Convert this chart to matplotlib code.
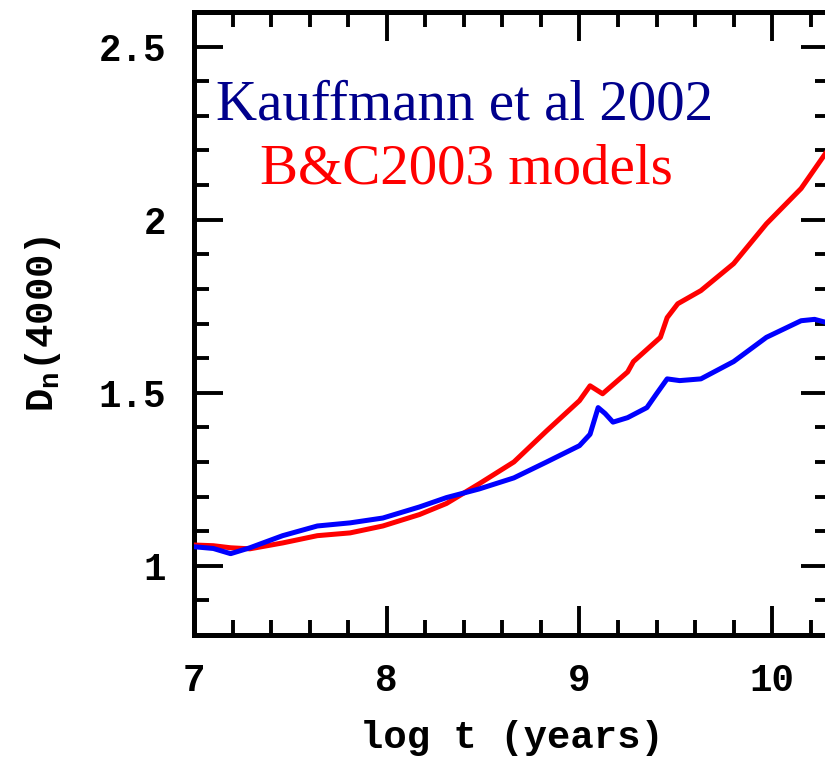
import numpy as np
import matplotlib
matplotlib.use("Agg")
import matplotlib.pyplot as plt
from matplotlib.ticker import MultipleLocator

# B&C2003 models (red)
logt_bc = [7.0, 7.10, 7.19, 7.29, 7.46, 7.64, 7.81, 7.98, 8.17, 8.31, 8.48,
           8.66, 8.83, 9.0, 9.055, 9.12, 9.25, 9.28, 9.42, 9.455, 9.51,
           9.63, 9.80, 9.97, 10.15, 10.30]
dn_bc = [1.06, 1.058, 1.052, 1.049, 1.066, 1.087, 1.095, 1.115, 1.148, 1.18,
         1.237, 1.30, 1.39, 1.477, 1.52, 1.497, 1.56, 1.59, 1.66, 1.717,
         1.757, 1.795, 1.873, 1.988, 2.09, 2.21]

# Kauffmann et al 2002 (blue)
logt_k = [7.0, 7.10, 7.19, 7.29, 7.46, 7.64, 7.81, 7.98, 8.17, 8.31, 8.48,
          8.66, 8.83, 9.0, 9.055, 9.097, 9.133, 9.174, 9.25, 9.35, 9.40,
          9.455, 9.52, 9.63, 9.80, 9.97, 10.15, 10.22, 10.30]
dn_k = [1.055, 1.05, 1.035, 1.052, 1.087, 1.115, 1.124, 1.138, 1.17, 1.197,
        1.222, 1.254, 1.30, 1.347, 1.38, 1.457, 1.44, 1.415, 1.428, 1.457,
        1.497, 1.54, 1.535, 1.54, 1.59, 1.66, 1.708, 1.712, 1.70]

W, H = 825, 762
fig = plt.figure(figsize=(W / 100, H / 100), dpi=100)
# axes frame runs slightly past the right edge, as in the original
ax = fig.add_axes([194 / W, (H - 635) / H, 636 / W, 623 / H])

ax.plot(logt_bc, dn_bc, color="#ff0000", lw=3.6, zorder=3)
ax.plot(logt_k, dn_k, color="#0000ff", lw=3.6, zorder=4)

ax.set_xlim(7, 10.30)
ax.set_ylim(0.8, 2.6)
ax.xaxis.set_minor_locator(MultipleLocator(0.2))
ax.yaxis.set_minor_locator(MultipleLocator(0.1))
ax.set_yticks([1, 1.5, 2, 2.5])
ax.set_yticklabels(["1", "1.5", "2", "2.5"])
ax.set_xticks([7, 8, 9, 10])
ax.set_xticklabels(["7", "8", "9", "10"])

for lab in ax.get_xticklabels() + ax.get_yticklabels():
    lab.set_fontfamily("Liberation Mono")
    lab.set_fontweight("bold")
    lab.set_fontsize(27)

ax.tick_params(which="both", direction="in", top=True, right=True, color="black")
ax.tick_params(which="major", length=21, width=2.8, pad=20)
ax.tick_params(which="minor", length=10.5, width=2.8)
for sp in ax.spines.values():
    sp.set_linewidth(3.6)

ax.set_xlabel("log t (years)", fontfamily="Liberation Mono", fontweight="bold",
              fontsize=28, labelpad=15)
ax.set_ylabel(r"D$_\mathregular{n}$(4000)", fontfamily="Liberation Mono",
              fontweight="bold", fontsize=28, labelpad=26)

ax.text(0.426, 0.827, "Kauffmann et al 2002", transform=ax.transAxes,
        ha="center", va="baseline", fontfamily="Liberation Serif",
        fontsize=41, color="#00008c")
ax.text(0.429, 0.7255, "B&C2003 models", transform=ax.transAxes,
        ha="center", va="baseline", fontfamily="Liberation Serif",
        fontsize=41, color="#ff0000")

fig.savefig("out.png", dpi=100)
